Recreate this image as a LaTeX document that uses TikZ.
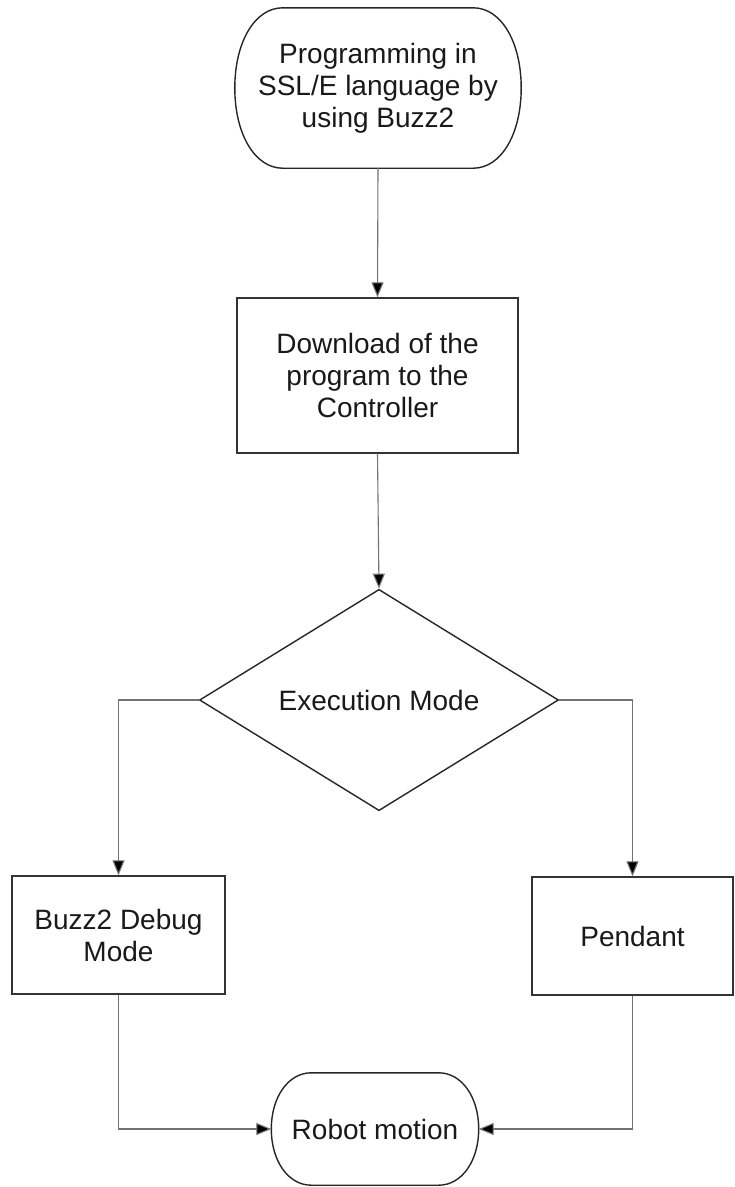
\documentclass[tikz,border=0pt]{standalone}
\usepackage{fontspec}
\setmainfont{Liberation Sans}
\usetikzlibrary{shapes.geometric,arrows.meta,calc}
\begin{document}
\begin{tikzpicture}[x=1pt,y=-1pt,
  every node/.style={font=\fontsize{28}{32}\selectfont, text=black!90, align=center, inner sep=0pt},
  boxnode/.style={rectangle, draw=black!80, line width=1.4pt, fill=white},
  termnode/.style={rectangle, draw=none},
  termline/.style={draw=black!85, line width=1.4pt},
  decnode/.style={diamond, draw=black!85, line width=1.4pt, minimum width=359pt, minimum height=199pt},
  conn/.style={draw=black!55, line width=1.1pt, -{Triangle[length=15pt,width=12pt,fill=black]}}
]
\useasboundingbox (0,0) rectangle (735,1187);

% start terminal
\node[termnode, minimum width=286pt, minimum height=160pt] (start) at (378,88)
  {Programming in\\SSL/E language by\\using Buzz2};
\draw[termline] ($(start.north west)+(48,0)$) -- ($(start.north east)+(-48,0)$)
  .. controls +(28,0) and +(0,-46) .. (start.east)
  .. controls +(0,46) and +(28,0) .. ($(start.south east)+(-48,0)$)
  -- ($(start.south west)+(48,0)$)
  .. controls +(-28,0) and +(0,46) .. (start.west)
  .. controls +(0,-46) and +(-28,0) .. ($(start.north west)+(48,0)$) -- cycle;

\node[boxnode, minimum width=281pt, minimum height=155pt] (down) at (377.5,375.5)
  {Download of the\\program to the\\Controller};

\node[decnode] (mode) at (379,700) {Execution Mode};

\node[boxnode, minimum width=213pt, minimum height=118pt] (debug) at (118.5,935)
  {Buzz2 Debug\\Mode};
\node[boxnode, minimum width=201pt, minimum height=118pt] (pend) at (632.5,936)
  {Pendant};

% end terminal
\node[termnode, minimum width=207pt, minimum height=112pt] (robot) at (375,1129)
  {Robot motion};
\draw[termline] ($(robot.north west)+(40,0)$) -- ($(robot.north east)+(-40,0)$)
  .. controls +(23,0) and +(0,-32) .. (robot.east)
  .. controls +(0,32) and +(23,0) .. ($(robot.south east)+(-40,0)$)
  -- ($(robot.south west)+(40,0)$)
  .. controls +(-23,0) and +(0,32) .. (robot.west)
  .. controls +(0,-32) and +(-23,0) .. ($(robot.north west)+(40,0)$) -- cycle;

% connectors
\draw[conn] (start.south) -- (down.north);
\draw[conn] (down.south) -- (mode.north);
\draw[conn] (mode.west) -| (debug.north);
\draw[conn] (mode.east) -| (pend.north);
\draw[conn] (debug.south) |- (robot.west);
\draw[conn] (pend.south) |- (robot.east);
\end{tikzpicture}
\end{document}
